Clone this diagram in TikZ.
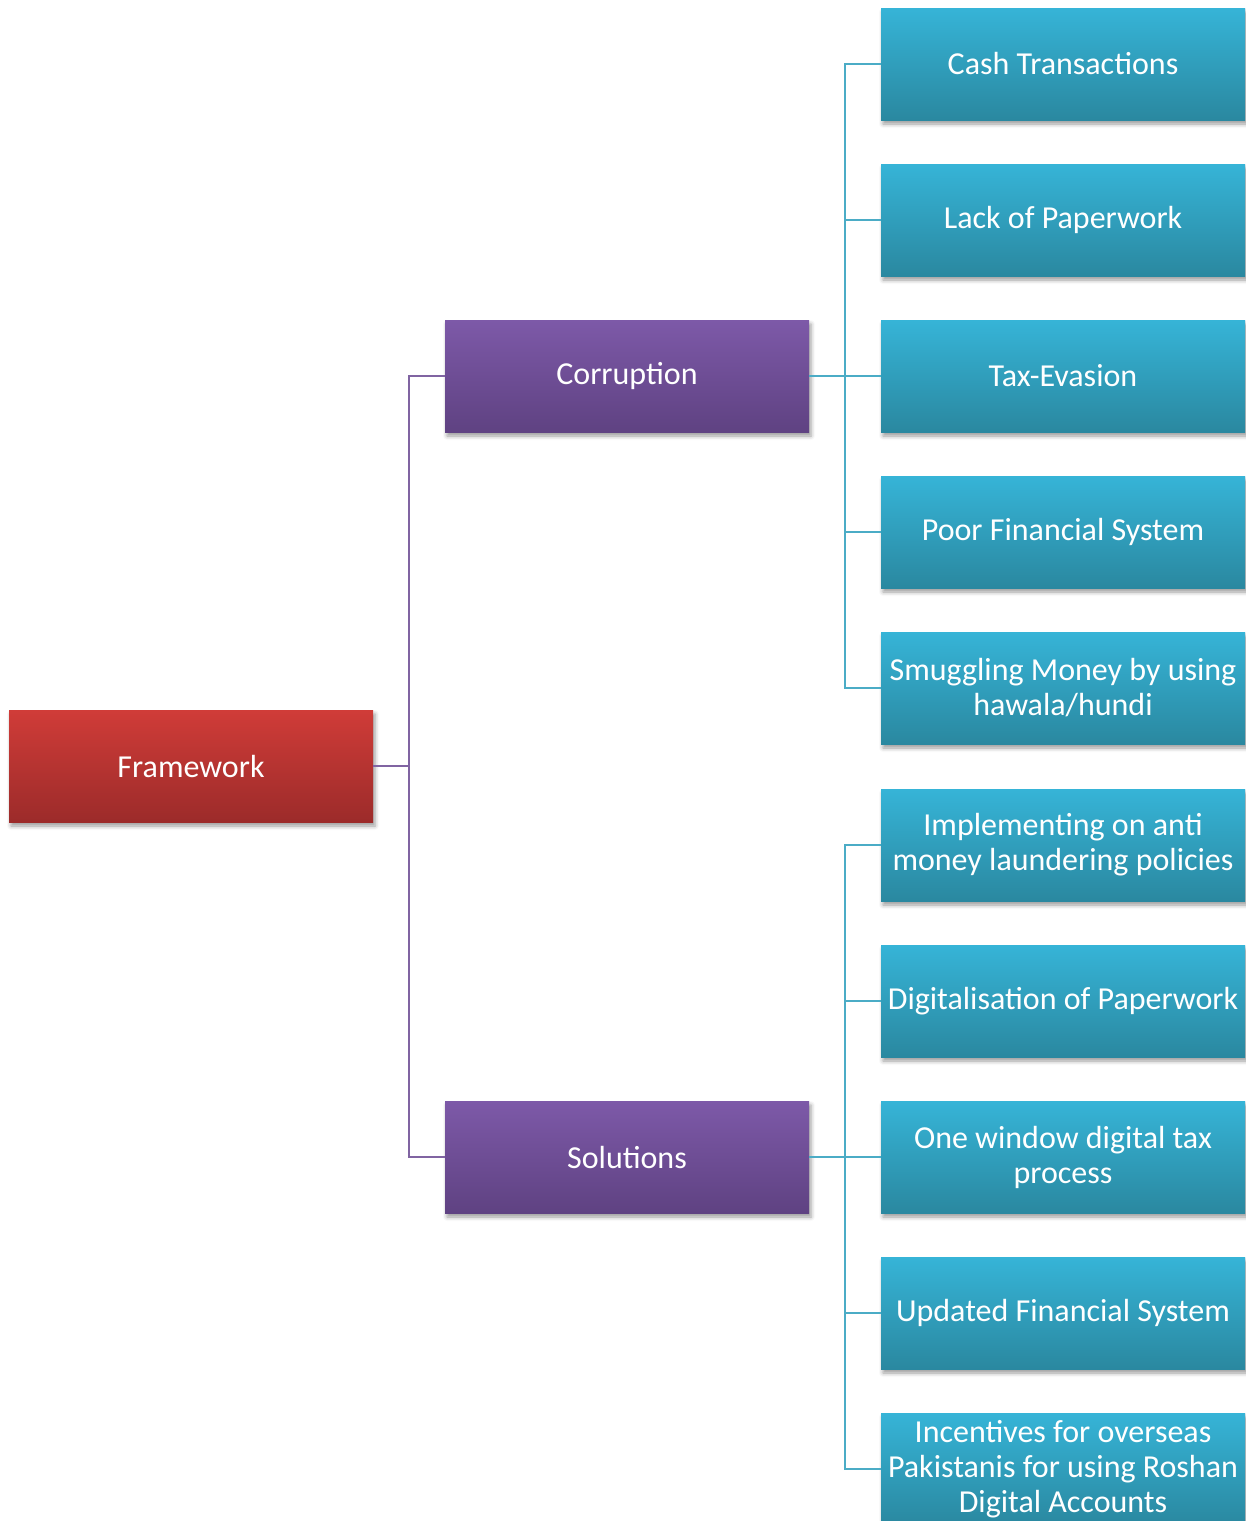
\documentclass[tikz,border=0pt]{standalone}
\usepackage{fontspec}
\setmainfont{Carlito}
\usetikzlibrary{shadows.blur}
\definecolor{redtop}{HTML}{D03C38}
\definecolor{redbot}{HTML}{9C2B2A}
\definecolor{purtop}{HTML}{7D59A8}
\definecolor{purbot}{HTML}{5F4282}
\definecolor{teatop}{HTML}{36B4D7}
\definecolor{teabot}{HTML}{2A88A0}
\definecolor{purline}{HTML}{8064A2}
\definecolor{tealine}{HTML}{4BACC6}
\tikzset{
  box/.style={rectangle, minimum width=364pt, minimum height=112pt, inner sep=4pt,
    text=white, align=center, font=\fontsize{32}{35}\selectfont,
    blur shadow={shadow xshift=2pt, shadow yshift=-4pt, shadow blur radius=4pt,
      shadow opacity=40}},
  rootbox/.style={box, top color=redtop, bottom color=redbot},
  midbox/.style={box, top color=purtop, bottom color=purbot},
  leafbox/.style={box, top color=teatop, bottom color=teabot},
  purlink/.style={draw=purline, line width=2pt},
  tealink/.style={draw=tealine, line width=2pt},
}
\begin{document}
\begin{tikzpicture}[x=1pt, y=-1pt]
\useasboundingbox (0,0) rectangle (1246,1521);
\clip (0,0) rectangle (1246,1521);
\node[rootbox] (fw) at (191,766) {Framework};
\node[midbox] (cor) at (627,376) {Corruption};
\node[midbox] (sol) at (627,1157) {Solutions};

\node[leafbox] (c1) at (1063,64) {Cash Transactions};
\node[leafbox] (c2) at (1063,220) {Lack of Paperwork};
\node[leafbox] (c3) at (1063,376) {Tax-Evasion};
\node[leafbox] (c4) at (1063,532) {Poor Financial System};
\node[leafbox] (c5) at (1063,688) {Smuggling Money by using\\hawala/hundi};

\node[leafbox] (s1) at (1063,845) {Implementing on anti\\money laundering policies};
\node[leafbox] (s2) at (1063,1001) {Digitalisation of Paperwork};
\node[leafbox] (s3) at (1063,1157) {One window digital tax\\process};
\node[leafbox] (s4) at (1063,1313) {Updated Financial System};
\node[leafbox] (s5) at (1063,1469) {Incentives for overseas\\Pakistanis for using Roshan\\Digital Accounts};

% tree connectors
\coordinate (fwj) at (409,766);
\foreach \m in {cor,sol}
  \draw[purlink] (fw.east) -- (fwj) |- (\m.west);
\coordinate (corj) at (845,376);
\foreach \l in {c1,c2,c3,c4,c5}
  \draw[tealink] (cor.east) -- (corj) |- (\l.west);
\coordinate (solj) at (845,1157);
\foreach \l in {s1,s2,s3,s4,s5}
  \draw[tealink] (sol.east) -- (solj) |- (\l.west);
\end{tikzpicture}
\end{document}
